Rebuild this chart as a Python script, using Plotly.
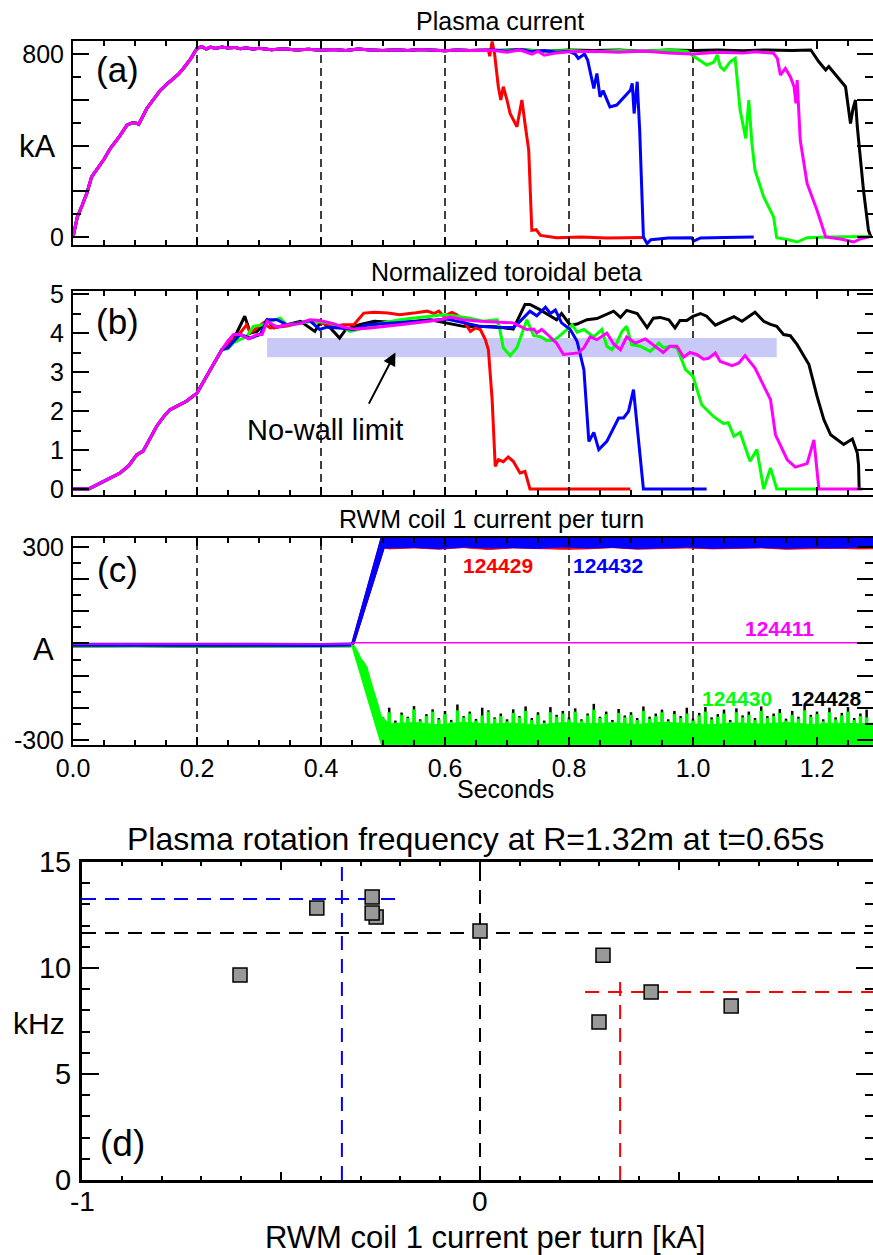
import plotly.graph_objects as go

W, H = 873, 1255
FONT = "Liberation Sans, Arial, Helvetica, sans-serif"

# ---------------- data ----------------
grid_t = [0.2, 0.4, 0.6, 0.8, 1.0]
col_black, col_red, col_green, col_blue, col_mag = "#000000", "#ff0000", "#00ff00", "#0000ff", "#ff00ff"

# (a) plasma current [kA]
ip_ramp_t = [0, 0.007, 0.015, 0.023, 0.03, 0.038, 0.05, 0.06, 0.075, 0.087, 0.095, 0.1, 0.106,
             0.119, 0.13, 0.141, 0.152, 0.162, 0.17, 0.178, 0.19, 0.2, 0.208]
ip_ramp = [0, 88, 140, 197, 263, 295, 340, 387, 440, 489, 499, 500, 493,
           562, 600, 642, 670, 693, 712, 737, 780, 825, 832]
ip_flat_t = [0.215, 0.222, 0.23, 0.24, 0.25, 0.26, 0.27, 0.28, 0.29, 0.30, 0.32, 0.34, 0.36, 0.38,
             0.40, 0.42, 0.44, 0.46, 0.48, 0.50, 0.52, 0.54, 0.56, 0.58, 0.60, 0.62, 0.64, 0.66]
ip_flat = [822, 830, 824, 831, 826, 829, 823, 827, 821, 825, 819, 823, 818, 821,
           817, 820, 816, 822, 818, 815, 819, 816, 820, 817, 814, 818, 815, 817]

ip_tail_124429 = [(0.67, 818), (0.672, 790), (0.676, 855), (0.68, 800), (0.686, 657), (0.69, 599),
                  (0.694, 657), (0.70, 599), (0.705, 540), (0.716, 482), (0.724, 599), (0.729, 496),
                  (0.735, 380), (0.74, 29), (0.747, 32), (0.754, 7), (0.78, -3), (0.82, 0), (0.86, -4), (0.92, -2)]
ip_tail_124432 = [(0.68, 818), (0.70, 812), (0.72, 820), (0.74, 810), (0.76, 815), (0.78, 808), (0.80, 812),
                  (0.81, 800), (0.815, 781), (0.825, 800), (0.83, 774), (0.84, 650), (0.845, 715), (0.85, 613),
                  (0.855, 640), (0.866, 569), (0.877, 577), (0.899, 642), (0.902, 672), (0.905, 540),
                  (0.91, 679), (0.914, 467), (0.92, 0), (0.926, -29), (0.932, -12), (0.96, -4), (0.998, -3),
                  (1.001, -18), (1.012, -4), (1.05, -2), (1.098, 0)]
ip_tail_124430 = [(0.68, 815), (0.72, 818), (0.76, 812), (0.80, 816), (0.84, 810), (0.88, 815), (0.92, 812),
                  (0.96, 818), (0.99, 812), (0.996, 800), (1.001, 791), (1.022, 752), (1.03, 760), (1.034, 766),
                  (1.039, 796), (1.044, 745), (1.05, 730), (1.06, 766), (1.068, 781), (1.076, 555),
                  (1.085, 431), (1.09, 599), (1.095, 409), (1.10, 292), (1.114, 175), (1.13, 88),
                  (1.135, -3), (1.15, -10), (1.168, -22), (1.184, -3), (1.22, 0), (1.286, 2)]
ip_tail_124411 = [(0.68, 815), (0.70, 808), (0.72, 818), (0.74, 800), (0.75, 812), (0.76, 795), (0.78, 805),
                  (0.80, 810), (0.84, 812), (0.88, 808), (0.92, 813), (0.96, 805), (1.0, 800), (1.04, 808),
                  (1.08, 804), (1.10, 810), (1.12, 805), (1.13, 803), (1.136, 781), (1.141, 708),
                  (1.149, 737), (1.157, 701), (1.163, 657), (1.166, 584), (1.168, 686), (1.173, 423),
                  (1.184, 234), (1.20, 117), (1.214, 0), (1.24, -10), (1.259, -22), (1.27, -8), (1.286, 2)]
ip_tail_124428 = [(0.68, 815), (0.72, 820), (0.76, 812), (0.80, 818), (0.84, 815), (0.88, 818), (0.92, 812),
                  (0.96, 818), (1.0, 815), (1.04, 818), (1.08, 814), (1.12, 818), (1.16, 815), (1.19, 818),
                  (1.203, 766), (1.214, 730), (1.219, 745), (1.246, 657), (1.254, 496), (1.258, 560),
                  (1.262, 599), (1.265, 482), (1.275, 204), (1.283, 29), (1.287, 0)]

# (b) normalized toroidal beta
beta_ramp_t = [0, 0.025, 0.044, 0.06, 0.076, 0.09, 0.103, 0.113, 0.125, 0.135, 0.146, 0.156, 0.167,
               0.183, 0.2, 0.216, 0.228, 0.24]
beta_ramp = [0, 0, 0.15, 0.27, 0.41, 0.6, 0.88, 0.97, 1.3, 1.61, 1.85, 2.03, 2.12,
             2.25, 2.46, 2.89, 3.25, 3.57]
beta_124428 = [(0.25, 3.7), (0.259, 3.83), (0.264, 4.0), (0.277, 4.43), (0.286, 4.0), (0.297, 4.04),
               (0.313, 4.34), (0.324, 4.13), (0.345, 4.21), (0.367, 4.3), (0.39, 4.04), (0.40, 4.3),
               (0.415, 4.13), (0.43, 3.87), (0.44, 4.09), (0.462, 4.21), (0.486, 4.3), (0.527, 4.26),
               (0.576, 4.34), (0.63, 4.17), (0.684, 4.16), (0.71, 4.1), (0.729, 4.73), (0.737, 4.73),
               (0.753, 4.6), (0.78, 4.34), (0.788, 4.5), (0.797, 4.3), (0.802, 4.2), (0.813, 4.23),
               (0.829, 4.34), (0.845, 4.37), (0.872, 4.56), (0.883, 4.4), (0.893, 4.58), (0.91, 4.5),
               (0.926, 4.14), (0.936, 4.38), (0.947, 4.4), (0.961, 4.34), (0.971, 4.13), (0.979, 4.32),
               (0.99, 4.32), (1.0, 4.43), (1.012, 4.5), (1.022, 4.43), (1.036, 4.2), (1.049, 4.3),
               (1.066, 4.42), (1.079, 4.3), (1.1, 4.53), (1.114, 4.3), (1.125, 4.22), (1.135, 4.17),
               (1.146, 3.96), (1.157, 3.93), (1.168, 3.7), (1.187, 3.19), (1.2, 2.38), (1.211, 1.78),
               (1.222, 1.39), (1.243, 1.14), (1.257, 1.28), (1.265, 0.92), (1.267, 0.62), (1.268, 0)]
beta_124429 = [(0.25, 3.72), (0.262, 3.85), (0.28, 4.21), (0.286, 4.0), (0.307, 4.26), (0.318, 4.13),
               (0.345, 4.18), (0.367, 4.26), (0.382, 4.32), (0.398, 4.27), (0.42, 4.17), (0.436, 4.21),
               (0.453, 4.21), (0.469, 4.51), (0.486, 4.53), (0.508, 4.51), (0.527, 4.47), (0.549, 4.51),
               (0.571, 4.56), (0.582, 4.5), (0.59, 4.56), (0.598, 4.43), (0.611, 4.53), (0.619, 4.47),
               (0.63, 4.3), (0.641, 4.04), (0.649, 4.13), (0.657, 4.09), (0.665, 3.83), (0.67, 3.57),
               (0.676, 2.29), (0.681, 0.58), (0.686, 0.75), (0.694, 0.7), (0.702, 0.82), (0.71, 0.71),
               (0.721, 0.41), (0.729, 0.45), (0.737, 0), (0.899, 0)]
beta_124432 = [(0.25, 3.62), (0.254, 3.7), (0.27, 3.96), (0.286, 3.87), (0.302, 3.96), (0.313, 4.34),
               (0.329, 4.34), (0.345, 4.21), (0.367, 4.26), (0.382, 4.32), (0.398, 4.09), (0.409, 4.15),
               (0.43, 4.13), (0.453, 4.09), (0.475, 4.21), (0.527, 4.26), (0.576, 4.32), (0.603, 4.36),
               (0.63, 4.27), (0.657, 4.17), (0.684, 4.14), (0.71, 4.14), (0.721, 4.3), (0.737, 4.56),
               (0.748, 4.44), (0.762, 4.66), (0.77, 4.5), (0.778, 4.59), (0.788, 4.26), (0.802, 4.09),
               (0.813, 3.79), (0.824, 3.06), (0.832, 1.22), (0.84, 1.45), (0.848, 1.01), (0.861, 1.22),
               (0.88, 1.82), (0.888, 1.82), (0.896, 1.99), (0.904, 2.55), (0.92, 0), (1.022, 0)]
beta_124430 = [(0.25, 3.6), (0.259, 3.75), (0.28, 3.91), (0.291, 4.17), (0.307, 4.21), (0.318, 4.3),
               (0.334, 4.38), (0.345, 4.21), (0.367, 4.26), (0.39, 4.3), (0.411, 4.26), (0.432, 4.17),
               (0.447, 4.04), (0.463, 4.1), (0.486, 4.21), (0.527, 4.34), (0.576, 4.43), (0.597, 4.47),
               (0.619, 4.43), (0.64, 4.38), (0.662, 4.3), (0.684, 4.34), (0.689, 4.04), (0.694, 3.62),
               (0.705, 3.42), (0.716, 3.62), (0.732, 4.34), (0.743, 3.93), (0.753, 3.91), (0.764, 3.81),
               (0.775, 3.81), (0.783, 3.9), (0.797, 4.09), (0.805, 4.21), (0.813, 4.02), (0.824, 4.09),
               (0.84, 3.9), (0.853, 4.09), (0.861, 3.66), (0.869, 3.57), (0.877, 3.74), (0.885, 4.03),
               (0.893, 4.17), (0.901, 3.7), (0.915, 3.66), (0.931, 3.53), (0.945, 3.74), (0.952, 3.62),
               (0.963, 3.66), (0.974, 3.62), (0.988, 3.06), (1.0, 2.89), (1.014, 2.16), (1.033, 1.86),
               (1.049, 1.68), (1.057, 1.7), (1.066, 1.35), (1.076, 1.45), (1.092, 0.71), (1.103, 1.01),
               (1.114, 0), (1.125, 0.54), (1.135, 0), (1.2, 0)]
beta_124411 = [(0.25, 3.8), (0.259, 3.96), (0.27, 3.96), (0.283, 3.85), (0.297, 3.96), (0.305, 3.96),
               (0.313, 4.3), (0.329, 4.15), (0.345, 4.21), (0.367, 4.24), (0.382, 4.34), (0.398, 4.32),
               (0.42, 4.24), (0.436, 4.15), (0.453, 4.1), (0.475, 4.12), (0.527, 4.21), (0.593, 4.34),
               (0.608, 4.41), (0.63, 4.34), (0.657, 4.3), (0.684, 4.27), (0.71, 4.26), (0.732, 4.09),
               (0.743, 4.1), (0.748, 4.0), (0.756, 4.09), (0.764, 3.98), (0.78, 3.74), (0.791, 3.45),
               (0.802, 3.47), (0.815, 3.49), (0.824, 3.62), (0.834, 3.9), (0.845, 3.83), (0.861, 4.0),
               (0.872, 3.72), (0.883, 3.57), (0.893, 3.9), (0.907, 3.74), (0.923, 3.85), (0.934, 3.71),
               (0.952, 3.5), (0.963, 3.66), (0.974, 3.66), (0.985, 3.38), (0.995, 3.5), (1.006, 3.45),
               (1.017, 3.33), (1.025, 3.35), (1.036, 3.49), (1.044, 3.27), (1.063, 3.16), (1.074, 3.23),
               (1.084, 3.42), (1.1, 3.1), (1.125, 2.29), (1.133, 1.39), (1.152, 0.75), (1.165, 0.56),
               (1.184, 0.65), (1.195, 1.26), (1.203, 0), (1.273, 0)]
nowall_t = [0.313, 1.135]
nowall_beta = [3.38, 3.87]

# (c) RWM coil current per turn [A]
pre_t = [0.0, 0.1, 0.2, 0.3, 0.4, 0.449]
pre_blue = [-4, -3, -5, -4, -5, -3]
pre_green = [-8, -7, -9, -8, -9, -7]
mag_t = [0.0, 0.449, 0.452, 1.30]
mag_c = [-2, -2, 2, 2]
pos_lower_t, pos_lower = [0.453, 0.502], [-3, 297]
pos_upper_t, pos_upper = [0.497, 0.449], [330, -3]
blue_t = [0.51, 0.55, 0.59, 0.63, 0.67, 0.71, 0.75, 0.79, 0.83, 0.87, 0.91, 0.95, 0.99, 1.03,
          1.07, 1.11, 1.15, 1.19, 1.23, 1.27, 1.30]
blue_bot = [297, 299, 295, 300, 297, 298, 296, 300, 297, 299, 295, 298, 300, 296, 297, 299, 296, 298, 297, 300, 297]
blue_top = [330, 330, 330, 330, 330, 330, 330, 330, 330, 330, 330, 330, 330, 330, 330, 330, 330, 330, 330, 330, 330]
red_bot = [294, 297, 293, 298, 292, 297, 295, 293, 294, 298, 293, 296, 297, 294, 296, 297, 293, 295, 296, 294, 295]
neg_ramp_t = [0.452, 0.458, 0.464, 0.470, 0.474, 0.480, 0.486, 0.492, 0.497, 0.51]
neg_ramp = [-3, -20, -45, -60, -72, -115, -150, -190, -225, -250]
green_base_t = [0.51, 0.55, 0.59, 0.63, 0.67, 0.71, 0.75, 0.79, 0.83, 0.87, 0.91, 0.95, 0.99, 1.03,
                1.07, 1.11, 1.15, 1.19, 1.23, 1.27, 1.30]
green_base = [-250, -246, -253, -245, -251, -248, -254, -246, -250, -247, -252, -245, -249, -253,
              -247, -251, -246, -252, -248, -250, -247]
neg_edge_t, neg_edge = [1.30, 0.497, 0.449], [-314, -314, -3]
noise_t = [0.50, 0.51, 0.52, 0.53, 0.54, 0.55, 0.56, 0.57, 0.58, 0.59,
           0.60, 0.61, 0.62, 0.63, 0.64, 0.65, 0.66, 0.67, 0.68, 0.69,
           0.70, 0.71, 0.72, 0.73, 0.74, 0.75, 0.76, 0.77, 0.78, 0.79,
           0.80, 0.81, 0.82, 0.83, 0.84, 0.85, 0.86, 0.87, 0.88, 0.89,
           0.90, 0.91, 0.92, 0.93, 0.94, 0.95, 0.96, 0.97, 0.98, 0.99,
           1.00, 1.01, 1.02, 1.03, 1.04, 1.05, 1.06, 1.07, 1.08, 1.09,
           1.10, 1.11, 1.12, 1.13, 1.14, 1.15, 1.16, 1.17, 1.18, 1.19,
           1.20, 1.21, 1.22, 1.23, 1.24, 1.25, 1.26, 1.27, 1.28]
green_top = [-238, -214, -246, -222, -232, -205, -240, -226, -212, -236,
             -220, -244, -208, -230, -218, -240, -224, -212, -234, -226,
             -242, -216, -230, -210, -238, -222, -246, -214, -228, -218,
             -236, -212, -240, -224, -206, -232, -220, -244, -216, -230,
             -222, -238, -210, -234, -226, -214, -242, -220, -232, -218,
             -240, -224, -212, -236, -228, -218, -244, -214, -230, -222,
             -238, -210, -232, -226, -216, -240, -222, -234, -208, -228,
             -220, -242, -214, -236, -224, -212, -238, -226, -230]
black_top = [-230, -200, -240, -215, -228, -195, -236, -220, -205, -232,
             -210, -238, -190, -226, -212, -235, -200, -208, -230, -218,
             -236, -205, -226, -196, -232, -214, -240, -198, -222, -210,
             -230, -202, -236, -218, -188, -228, -212, -238, -204, -224,
             -214, -232, -196, -228, -218, -206, -236, -210, -226, -200,
             -234, -216, -198, -230, -220, -206, -238, -202, -224, -212,
             -232, -196, -226, -218, -204, -234, -210, -228, -192, -222,
             -212, -236, -200, -230, -216, -198, -232, -218, -206]
spike_base = -252
shot_labels = ["124429", "124432", "124411", "124430", "124428"]
shot_label_t = [0.685, 0.863, 1.140, 1.071, 1.215]
shot_label_a = [241, 241, 48, -172, -172]
shot_label_col = [col_red, col_blue, col_mag, col_green, col_black]

# (d) rotation vs coil current
rwm_kA = [-0.603, -0.410, -0.271, -0.261, -0.271, 0.0, 0.309, 0.299, 0.430, 0.631]
rot_kHz = [9.67, 12.83, 13.35, 12.40, 12.59, 11.74, 10.60, 7.45, 8.87, 8.21]
d_xtick_vals = [-1, 0]
d_xtick_text = ["-1", "0"]
ref_lines = [  # (x-list, y-list, colour)
    ([-1.0, -0.20], [13.25, 13.25], col_blue),
    ([-0.347, -0.347], [0, 15], col_blue),
    ([-1.0, 0.99], [11.65, 11.65], col_black),
    ([0.0, 0.0], [0, 15], col_black),
    ([0.264, 0.99], [8.87, 8.87], col_red),
    ([0.352, 0.352], [0, 9.58], col_red),
]

# ---------------- figure ----------------
fig = go.Figure()


def unzip(pairs):
    return [p[0] for p in pairs], [p[1] for p in pairs]


def line(x, y, color, xa, ya, width=3):
    fig.add_trace(go.Scatter(x=x, y=y, mode="lines", line=dict(color=color, width=width),
                             xaxis=xa, yaxis=ya, showlegend=False, hoverinfo="skip"))


# panel (a)
for tail, c in [(ip_tail_124428, col_black), (ip_tail_124429, col_red), (ip_tail_124430, col_green),
                (ip_tail_124432, col_blue), (ip_tail_124411, col_mag)]:
    tt, vv = unzip(tail)
    line(ip_ramp_t + ip_flat_t + tt, ip_ramp + ip_flat + vv, c, "x", "y")

# panel (b)
for tail, c in [(beta_124428, col_black), (beta_124429, col_red), (beta_124430, col_green),
                (beta_124432, col_blue), (beta_124411, col_mag)]:
    tt, vv = unzip(tail)
    line(beta_ramp_t + tt, beta_ramp + vv, c, "x2", "y2")

# panel (c)
line(pre_t, pre_green, col_black, "x3", "y3", 3)
line(pre_t, pre_green, col_green, "x3", "y3", 3)
line(pre_t, pre_blue, col_red, "x3", "y3", 3)
line(pre_t, pre_blue, col_blue, "x3", "y3", 4)


def poly(x, y, color):
    fig.add_trace(go.Scatter(x=x, y=y, mode="lines", fill="toself", fillcolor=color,
                             line=dict(color=color, width=1), xaxis="x3", yaxis="y3",
                             showlegend=False, hoverinfo="skip"))


def spikes(ts, tops, color, width):
    xs, ys = [], []
    for t, v in zip(ts, tops):
        xs += [t, t, None]
        ys += [spike_base, v, None]
    fig.add_trace(go.Scatter(x=xs, y=ys, mode="lines", line=dict(color=color, width=width),
                             xaxis="x3", yaxis="y3", showlegend=False, hoverinfo="skip",
                             connectgaps=False))


# negative (124428 black, 124430 green) coil current
spikes(noise_t, black_top, col_black, 2.5)
poly([0.449] + neg_ramp_t + green_base_t + neg_edge_t, [-3] + neg_ramp + green_base + neg_edge, col_green)
spikes(noise_t, green_top, col_green, 3.5)
# positive (124429 red, 124432 blue) coil current
poly(pos_lower_t + blue_t + blue_t[::-1] + pos_upper_t, pos_lower + red_bot + blue_top[::-1] + pos_upper, col_red)
poly(pos_lower_t + blue_t + blue_t[::-1] + pos_upper_t, pos_lower + blue_bot + blue_top[::-1] + pos_upper, col_blue)
line(mag_t, mag_c, col_mag, "x3", "y3", 1.5)

# panel (d)
for xs, ys, c in ref_lines:
    fig.add_trace(go.Scatter(x=xs, y=ys, mode="lines", line=dict(color=c, width=2, dash="14px,9px"),
                             xaxis="x4", yaxis="y4", showlegend=False, hoverinfo="skip"))
fig.add_trace(go.Scatter(x=rwm_kA, y=rot_kHz, mode="markers",
                         marker=dict(symbol="square", size=14, color="#999999",
                                     line=dict(color="black", width=1.5)),
                         xaxis="x4", yaxis="y4", showlegend=False, hoverinfo="skip"))

# dashed time grid lines + no-wall band
for ax in ["x", "x2", "x3"]:
    ya = ax.replace("x", "y")
    for g in grid_t:
        fig.add_shape(type="line", xref=ax, yref=ya + " domain", x0=g, x1=g, y0=0, y1=1,
                      line=dict(color="black", width=1.5, dash="8px,5px"), layer="below")
fig.add_shape(type="rect", xref="x2", yref="y2", x0=nowall_t[0], x1=nowall_t[1],
              y0=nowall_beta[0], y1=nowall_beta[1], fillcolor="#c9c9f7", line=dict(width=0), layer="below")


# ---------------- axes ----------------
def px_x(p):
    return p / W


def px_y(p):
    return 1 - p / H


def frame(lw=2, size=25, **kw):
    d = dict(showline=True, linecolor="black", linewidth=lw, mirror="allticks", ticks="inside",
             tickcolor="black", tickwidth=1.5, showgrid=False, zeroline=False, automargin=False,
             tickfont=dict(family=FONT, size=size, color="black"))
    d.update(kw)
    return d


def minor(dt, ln):
    return dict(ticks="inside", ticklen=ln, tickcolor="black", tickwidth=1.5, dtick=dt, tick0=0, showgrid=False)


xdom = [px_x(73), 1.0]
t_range = [0, 1.2903]
t_ticks = [0, 0.2, 0.4, 0.6, 0.8, 1.0, 1.2]
fig.update_layout(
    xaxis=frame(domain=xdom, range=t_range, anchor="y", tickvals=t_ticks, ticklen=8,
                showticklabels=False, minor=minor(0.05, 5)),
    yaxis=frame(domain=[px_y(245), px_y(41)], range=[-35, 857], anchor="x",
                tickvals=[0, 200, 400, 600, 800], ticktext=["0", "", "", "", "800"], ticklen=16,
                minor=minor(100, 8), ticklabelstandoff=2),
    xaxis2=frame(domain=xdom, range=t_range, anchor="y2", tickvals=t_ticks, ticklen=8,
                 showticklabels=False, minor=minor(0.05, 5)),
    yaxis2=frame(domain=[px_y(495), px_y(291)], range=[-0.154, 5.077], anchor="x2",
                 tickvals=[0, 1, 2, 3, 4, 5], ticklen=16, minor=minor(0.5, 8), ticklabelstandoff=2),
    xaxis3=frame(domain=xdom, range=t_range, anchor="y3", tickvals=t_ticks,
                 ticktext=["0.0", "0.2", "0.4", "0.6", "0.8", "1.0", "1.2"], ticklen=8,
                 minor=minor(0.05, 5), ticklabelstandoff=0),
    yaxis3=frame(domain=[px_y(745), px_y(538)], range=[-316, 328], anchor="x3",
                 tickvals=[-300, -200, -100, 0, 100, 200, 300],
                 ticktext=["-300", "", "", "", "", "", "300"], ticklen=16, minor=minor(50, 8),
                 ticklabelstandoff=2),
    xaxis4=frame(lw=3, size=29, domain=[px_x(82), 1.0], range=[-1, 0.9874], anchor="y4",
                 tickvals=[-1, -0.5, 0, 0.5, 1], ticklen=8, showticklabels=False,
                 minor=minor(0.1, 4)),
    yaxis4=frame(lw=3, size=29, domain=[px_y(1180), px_y(862)], range=[0, 15], anchor="x4",
                 tickvals=[0, 5, 10, 15], ticklen=17, minor=minor(1, 8), ticklabelstandoff=2),
    width=W, height=H, margin=dict(l=0, r=0, t=0, b=0, pad=0, autoexpand=False),
    paper_bgcolor="white", plot_bgcolor="white",
    font=dict(family=FONT, color="black"),
)


def note(text, x, y, size, **kw):
    fig.add_annotation(text=text, x=px_x(x), y=px_y(y), xref="paper", yref="paper",
                       showarrow=False, xanchor="center", yanchor="middle",
                       font=dict(family=FONT, size=size, color="black"), **kw)


note("Plasma current", 500, 21, 25)
note("Normalized toroidal beta", 506, 272, 25)
note("RWM coil 1 current per turn", 491, 519, 25)
note("Plasma rotation frequency at R=1.32m at t=0.65s", 476, 839, 32)
note("(a)", 118, 69, 35)
note("(b)", 118, 321, 35)
note("(c)", 118, 569, 35)
note("(d)", 122, 1143, 37)
note("kA", 37, 146, 31)
note("A", 43, 649, 31)
note("kHz", 39, 1023, 30)
note("Seconds", 505, 789, 25)
note("RWM coil 1 current per turn [kA]", 485, 1237, 31, borderpad=0)

# (d) x tick labels
for v, txt in zip(d_xtick_vals, d_xtick_text):
    fig.add_annotation(text=txt, x=v, y=px_y(1201), xref="x4", yref="paper", showarrow=False,
                       xanchor="center", yanchor="middle", borderpad=0,
                       font=dict(family=FONT, size=28, color="black"))

for txt, tt, aa, c in zip(shot_labels, shot_label_t, shot_label_a, shot_label_col):
    fig.add_annotation(text="<b>%s</b>" % txt, x=tt, y=aa, xref="x3", yref="y3", showarrow=False,
                       font=dict(family=FONT, size=21, color=c))

fig.add_annotation(text="No-wall limit", x=0.406, y=1.51, xref="x2", yref="y2", showarrow=False,
                   font=dict(family=FONT, size=29, color="black"))
fig.add_annotation(text="", x=0.52, y=3.5, ax=0.476, ay=2.15, xref="x2", yref="y2",
                   axref="x2", ayref="y2", showarrow=True, arrowhead=2, arrowsize=1.3,
                   arrowwidth=2, arrowcolor="black", standoff=0)

fig.write_html("out.html", config={"displayModeBar": False},
               post_script="document.body.style.margin='0';")
